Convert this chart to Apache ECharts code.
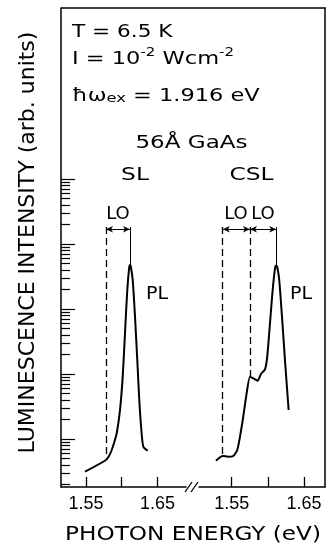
<!DOCTYPE html>
<html><head><meta charset="utf-8">
<script src="https://cdn.jsdelivr.net/npm/echarts@6/dist/echarts.min.js"></script>
<style>html,body{margin:0;padding:0;background:#fff}#c{width:326px;height:548px}</style>
</head><body><div id="c"></div>
<script>
// ---- data ----
// SL spectrum (photon energy eV, luminescence intensity arb. units)
const slEnergy = [1.5486, 1.5780, 1.5822, 1.5860, 1.5892, 1.5930, 1.5976, 1.6014, 1.6046, 1.6078, 1.6106, 1.6116, 1.6126, 1.6154, 1.6186, 1.6218, 1.6246, 1.6275, 1.6303, 1.6364];
const slIntensity = [0.314, 0.475, 0.547, 0.677, 0.868, 1.224, 2.79, 9.09, 42.7, 196, 448, 475, 459, 279, 76.2, 16.4, 3.98, 1.375, 0.761, 0.661];
// CSL spectrum
const cslEnergy = [1.5283, 1.5376, 1.5453, 1.5522, 1.5577, 1.5615, 1.5660, 1.5707, 1.5753, 1.5799, 1.5860, 1.5905, 1.5961, 1.5992, 1.6030, 1.6067, 1.6103, 1.6117, 1.6131, 1.6158, 1.6196, 1.6237, 1.6288];
const cslIntensity = [0.464, 0.548, 0.534, 0.548, 0.677, 1.085, 2.20, 5.05, 9.09, 8.59, 7.89, 10, 11.8, 18.5, 60.3, 196, 448, 467, 438, 279, 76.2, 16.4, 2.79];
// LO phonon replica markers
const slPeakEnergy = 1.6116, slPeakIntensity = 475;
const slLOEnergy = 1.578, slLOIntensity = 0.475;
const cslPeakEnergy = 1.6117, cslPeakIntensity = 467;
const cslLO1Energy = 1.5753, cslLO1Intensity = 9.09;
const cslLO2Energy = 1.5376, cslLO2Intensity = 0.548;
const guideTop = 1820, arrowLevel = 1683;
// axes
const xTickValues = [1.55, 1.60, 1.65];
const xLabelValues = [1.55, 1.65];
const yMajorTicks = [1, 10, 100, 1000, 10000];
const yMinorTicks = [0.2,0.3,0.4,0.5,0.6,0.7,0.8,0.9, 2,3,4,5,6,7,8,9, 20,30,40,50,60,70,80,90, 200,300,400,500,600,700,800,900, 2000,3000,4000,5000,6000,7000,8000,9000];
const yMin = 0.1826, yMax = 4.27e6;
const leftXMin = 1.515, leftXMax = 1.690;
const rightXMin = 1.5048, rightXMax = 1.6791;

const zip = (a, b) => a.map((v, i) => [v, b[i]]);
const K = '#000';
const labelFont = 'Liberation Sans';
const tf = 'DejaVu Sans';

const xAxisCommon = {
  type: 'value',
  axisLine: { show: true, lineStyle: { color: K, width: 1.5 } },
  axisTick: { show: true, inside: true, length: 10, lineStyle: { color: K, width: 1.3 }, customValues: xTickValues },
  axisLabel: { show: true, customValues: xLabelValues, formatter: v => v.toFixed(2), color: K, fontSize: 18, fontFamily: labelFont, margin: 8 },
  splitLine: { show: false }
};

const dashed = { type: [7, 4], color: K, width: 1.3 };
const thin = { type: 'solid', color: K, width: 1 };

function guideLines(items) {
  return {
    silent: true, symbol: 'none', label: { show: false }, animation: false,
    data: items
  };
}
function vline(x, y1, y2, style) {
  return [{ coord: [x, y1], lineStyle: style, symbol: 'none' }, { coord: [x, y2], symbol: 'none' }];
}
function arrowLine(x1, x2, y) {
  return [{ coord: [x1, y], lineStyle: thin, symbol: 'arrow', symbolSize: [5, 7] }, { coord: [x2, y], symbol: 'arrow', symbolSize: [5, 7] }];
}

function txt(text, x, y, size, opts) {
  return Object.assign({
    type: 'text', x: x, y: y, silent: true,
    style: { text: text, fill: K, font: size + 'px "' + tf + '"', align: 'center', verticalAlign: 'middle' }
  }, opts || {});
}

const option = {
  animation: false,
  backgroundColor: '#fff',
  grid: [
    { left: 61, top: 8, width: 125, height: 479 },
    { left: 199, top: 8, width: 126, height: 479 }
  ],
  xAxis: [
    Object.assign({}, xAxisCommon, { gridIndex: 0, min: leftXMin, max: leftXMax }),
    Object.assign({}, xAxisCommon, { gridIndex: 1, min: rightXMin, max: rightXMax })
  ],
  yAxis: [
    { type: 'log', gridIndex: 0, min: yMin, max: yMax, position: 'left',
      axisLine: { show: true, lineStyle: { color: K, width: 1.5 } },
      axisTick: { show: true, inside: true, length: 14, customValues: yMajorTicks, lineStyle: { color: K, width: 1.2 } },
      axisLabel: { show: false }, splitLine: { show: false } },
    { type: 'log', gridIndex: 0, min: yMin, max: yMax, position: 'left',
      axisLine: { show: false },
      axisTick: { show: true, inside: true, length: 9, customValues: yMinorTicks, lineStyle: { color: K, width: 1.2 } },
      axisLabel: { show: false }, splitLine: { show: false } },
    { type: 'log', gridIndex: 1, min: yMin, max: yMax, position: 'right',
      axisLine: { show: true, lineStyle: { color: K, width: 1.5 } },
      axisTick: { show: false }, axisLabel: { show: false }, splitLine: { show: false } }
  ],
  series: [
    { name: 'SL', type: 'line', xAxisIndex: 0, yAxisIndex: 0, data: zip(slEnergy, slIntensity),
      showSymbol: false, smooth: 0.25, lineStyle: { color: K, width: 2 },
      markLine: guideLines([
        vline(slLOEnergy, guideTop, slLOIntensity, dashed),
        vline(slPeakEnergy, guideTop, slPeakIntensity, thin),
        arrowLine(slLOEnergy, slPeakEnergy, arrowLevel)
      ]) },
    { name: 'CSL', type: 'line', xAxisIndex: 1, yAxisIndex: 2, data: zip(cslEnergy, cslIntensity),
      showSymbol: false, smooth: 0.2, lineStyle: { color: K, width: 2 },
      markLine: guideLines([
        vline(cslLO2Energy, guideTop, cslLO2Intensity, dashed),
        vline(cslLO1Energy, guideTop, cslLO1Intensity, dashed),
        vline(cslPeakEnergy, guideTop, cslPeakIntensity, thin),
        arrowLine(cslLO2Energy, cslLO1Energy, arrowLevel),
        arrowLine(cslLO1Energy, cslPeakEnergy, arrowLevel)
      ]) }
  ],
  graphic: [
    { type: 'line', silent: true, shape: { x1: 61, y1: 8, x2: 325.5, y2: 8 }, style: { stroke: K, lineWidth: 1.5 } },
    { type: 'line', silent: true, shape: { x1: 185, y1: 492, x2: 192, y2: 482 }, style: { stroke: K, lineWidth: 1.3 } },
    { type: 'line', silent: true, shape: { x1: 191, y1: 492, x2: 198, y2: 482 }, style: { stroke: K, lineWidth: 1.3 } },
    txt('T = 6.5 K', 72, 32, 18, { scaleX: 1.2, style: { text: 'T = 6.5 K', fill: K, font: '18px "' + tf + '"', align: 'left', verticalAlign: 'middle' } }),
    { type: 'text', x: 72, y: 57, scaleX: 1.25, silent: true,
      style: { text: '{m|I = 10}{s|-2}{m| Wcm}{s|-2}', fill: K, align: 'left', verticalAlign: 'middle',
        rich: { m: { fontSize: 18, fontFamily: tf, lineHeight: 22, verticalAlign: 'bottom' },
                s: { fontSize: 12, fontFamily: tf, lineHeight: 12, verticalAlign: 'bottom', padding: [0, 0, 9, 0] } } } },
    { type: 'text', x: 72, y: 94, scaleX: 1.25, silent: true,
      style: { text: '{m|ħω}{b|ex}{m| = 1.916 eV}', fill: K, align: 'left', verticalAlign: 'middle',
        rich: { m: { fontSize: 18, fontFamily: tf, lineHeight: 22, verticalAlign: 'bottom' },
                b: { fontSize: 13, fontFamily: tf, lineHeight: 13, verticalAlign: 'bottom' } } } },
    txt('56Å GaAs', 191.5, 143.5, 18, { scaleX: 1.28 }),
    txt('SL', 135, 175, 18, { scaleX: 1.3 }),
    txt('CSL', 251.5, 175, 18, { scaleX: 1.3 }),
    txt('LO', 118, 214.5, 18),
    txt('LO', 236, 214.5, 18),
    txt('LO', 263, 214.5, 18),
    txt('PL', 157, 294, 18, { scaleX: 1.06 }),
    txt('PL', 301, 294, 18, { scaleX: 1.06 }),
    txt('PHOTON ENERGY (eV)', 193, 535, 19, { scaleX: 1.22 }),
    txt('LUMINESCENCE INTENSITY (arb. units)', 28.5, 242.5, 22, { rotation: Math.PI / 2 })
  ]
};

const chart = echarts.init(document.getElementById('c'), null, { renderer: 'canvas' });
chart.setOption(option);
</script>
</body></html>
